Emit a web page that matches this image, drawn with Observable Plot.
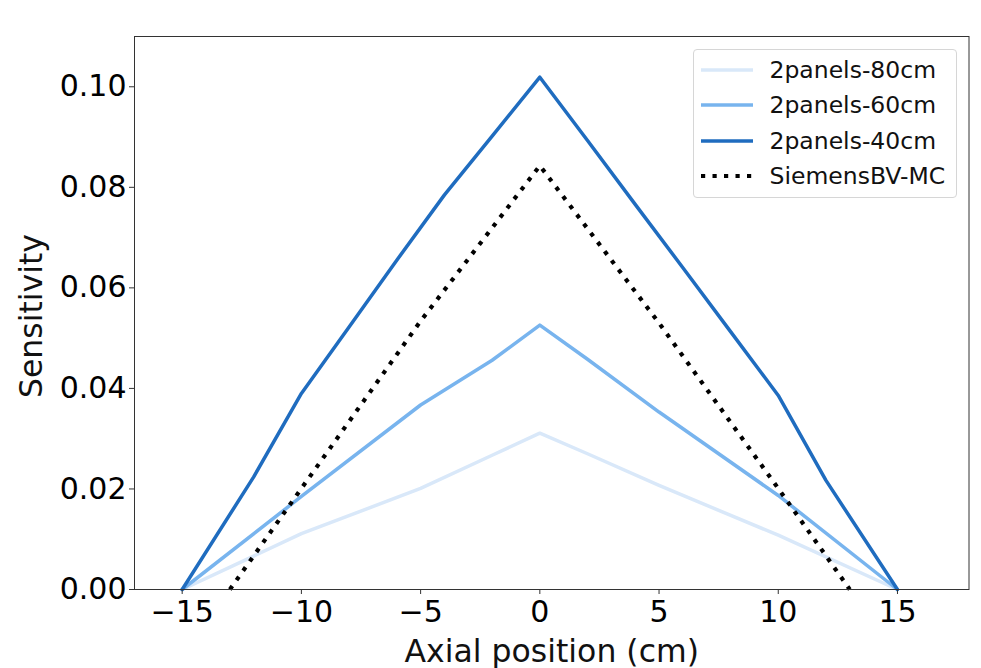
<!DOCTYPE html>
<html>
<head>
<meta charset="utf-8">
<script src="https://cdn.jsdelivr.net/npm/d3@7"></script>
<script src="https://cdn.jsdelivr.net/npm/@observablehq/plot@0.6"></script>
<style>
  body { margin: 0; background: #fff; }
  #wrap { position: relative; width: 981px; height: 668px; font-family: "DejaVu Sans"; }
  .legend { position: absolute; left: 692.5px; top: 49px; width: 264px; height: 149px; box-sizing: border-box;
            border: 1px solid #d6d6d6; border-radius: 4px; background: rgba(255,255,255,0.85); }
  .row { position: absolute; left: 0; height: 30px; line-height: 30px; width: 100%; }
  .row svg { position: absolute; left: 7px; top: 0; }
  .row span { position: absolute; left: 76px; top: 0; font-size: 23.5px; color: #111; white-space: nowrap; }
</style>
</head>
<body>
<div id="wrap"></div>
<script>
// Series names, colours
const seriesNames = ["2panels-80cm", "2panels-60cm", "2panels-40cm", "SiemensBV-MC"];
const seriesColors = ["#d9e8f9", "#78b4ee", "#1f6cbf", "#000000"];

// 2panels-80cm
const x80 = [-15, -10, -5, -2, 0, 2, 5, 10, 15];
const y80 = [0, 0.0111, 0.0201, 0.0267, 0.0311, 0.0270, 0.0207, 0.0108, 0];

// 2panels-60cm
const x60 = [-15, -10, -5, -2, 0, 2, 5, 10, 15];
const y60 = [0, 0.0185, 0.0367, 0.0456, 0.0526, 0.0458, 0.0353, 0.0187, 0];

// 2panels-40cm
const x40 = [-15, -12, -10, -8, -6, -4, -2, 0, 2, 4, 6, 8, 10, 12, 15];
const y40 = [0, 0.0224, 0.0390, 0.0522, 0.0655, 0.0785, 0.0902, 0.1019, 0.0893, 0.0766, 0.0640, 0.0513, 0.0386, 0.0217, 0];

// SiemensBV-MC
const xMC = [-13, -10, -5, 0, 5, 10, 13];
const yMC = [0, 0.0201, 0.0534, 0.0843, 0.0530, 0.0201, 0];

// Axis ticks and labels
const xTicks = [-15, -10, -5, 0, 5, 10, 15];
const yTicks = [0, 0.02, 0.04, 0.06, 0.08, 0.10];
const xLabel = "Axial position (cm)";
const yLabel = "Sensitivity";

const toRows = (xs, ys) => xs.map((x, i) => ({x, y: ys[i]}));
const d80 = toRows(x80, y80), d60 = toRows(x60, y60), d40 = toRows(x40, y40), dMC = toRows(xMC, yMC);

const chart = Plot.plot({
  width: 981,
  height: 668,
  marginLeft: 134,
  marginRight: 12.5,
  marginTop: 36,
  marginBottom: 79,
  style: {fontFamily: "DejaVu Sans", fontSize: "30px", background: "#fff", color: "#000"},
  x: {domain: [-17, 18]},
  y: {domain: [0, 0.11]},
  marks: [
    Plot.line(d80, {x: "x", y: "y", stroke: seriesColors[0], strokeWidth: 3.5}),
    Plot.line(d60, {x: "x", y: "y", stroke: seriesColors[1], strokeWidth: 3.5}),
    Plot.line(d40, {x: "x", y: "y", stroke: seriesColors[2], strokeWidth: 3.5}),
    Plot.line(dMC, {x: "x", y: "y", stroke: seriesColors[3], strokeWidth: 4.2, strokeDasharray: "4.2,7.3", strokeLinecap: "butt"}),
    Plot.axisX({ticks: xTicks, tickFormat: d3.format("d"), tickSize: 5, tickPadding: 6, fontSize: 30, label: null, stroke: "#333"}),
    Plot.axisY({ticks: yTicks, tickFormat: d3.format(".2f"), tickSize: 5, tickPadding: 3, fontSize: 30, label: null, stroke: "#333"}),
    Plot.text([xLabel], {frameAnchor: "bottom", dy: 62, text: d => d, fontSize: 31.5, textAnchor: "middle", lineAnchor: "middle", fill: "#111"}),
    Plot.text([yLabel], {frameAnchor: "left", dx: -103, dy: 3, text: d => d, fontSize: 31.5, textAnchor: "middle", rotate: -90, lineAnchor: "middle", fill: "#111"}),
    Plot.frame({stroke: "#333", strokeWidth: 1})
  ]
});

const wrap = document.getElementById("wrap");
wrap.appendChild(chart);

// Legend (inside the plot, top-right)
const legend = document.createElement("div");
legend.className = "legend";
const rowCenters = [19.5, 55, 90.5, 126];
seriesNames.forEach((name, i) => {
  const row = document.createElement("div");
  row.className = "row";
  row.style.top = (rowCenters[i] - 15) + "px";
  const dotted = i === 3;
  row.innerHTML = `<svg width="52" height="30"><line x1="0" x2="52" y1="15" y2="15" stroke="${seriesColors[i]}"
    stroke-width="${dotted ? 4.2 : 3.5}" ${dotted ? 'stroke-dasharray="4.2,7.3"' : ""}/></svg><span>${name}</span>`;
  legend.appendChild(row);
});
wrap.appendChild(legend);
</script>
</body>
</html>
